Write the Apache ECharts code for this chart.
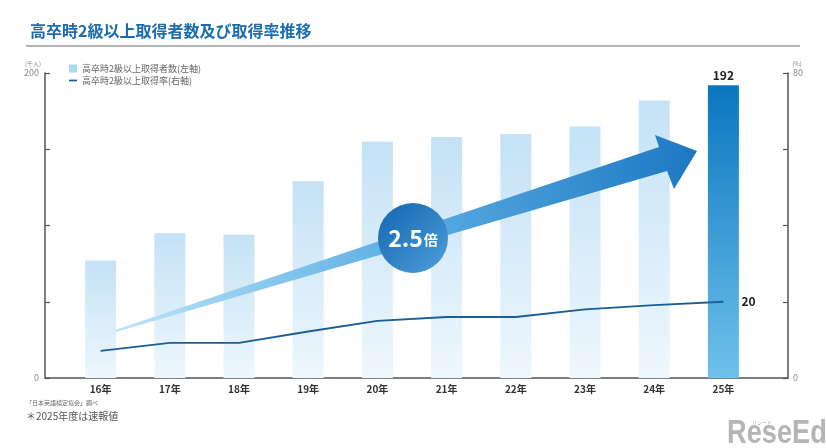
<!DOCTYPE html>
<html><head><meta charset="utf-8">
<script src="https://cdn.jsdelivr.net/npm/echarts@6/dist/echarts.min.js"></script>
<style>html,body{margin:0;padding:0;background:#fff}#c{width:826px;height:448px}</style>
</head><body><div id="c"></div>
<script>
const categories = ['16年','17年','18年','19年','20年','21年','22年','23年','24年','25年'];
const holders = [77, 95, 94, 129, 155, 158, 160, 165, 182, 192];
const rate = [7.1, 9.2, 9.2, 12.2, 15.0, 16.0, 16.0, 18.0, 19.1, 20.0];
const leftTicks = [0, 200];
const rightTicks = [0, 80];
const FONT = '"Noto Sans CJK JP","Noto Sans",sans-serif';

const chart = echarts.init(document.getElementById('c'));
const lightGrad = new echarts.graphic.LinearGradient(0,0,0,1,[{offset:0,color:'#c4e2f6'},{offset:1,color:'#eef7fd'}]);
const darkGrad = new echarts.graphic.LinearGradient(0,0,0,1,[{offset:0,color:'#0a76c0'},{offset:1,color:'#6fc1eb'}]);
const barData = holders.map((v,i)=> i===holders.length-1 ? {value:v,itemStyle:{color:darkGrad},label:{show:true,position:'top',distance:4,fontSize:12,fontWeight:'bold',color:'#222',fontFamily:FONT}} : {value:v,itemStyle:{color:lightGrad}});

chart.setOption({
  animation:false,
  textStyle:{fontFamily:FONT},
  title:{text:'高卒時2級以上取得者数及び取得率推移',left:25,top:18,textStyle:{fontSize:16,fontWeight:'bold',color:'#1b6daf',fontFamily:FONT}},
  legend:{left:64,top:59,orient:'vertical',itemGap:3,itemWidth:8,itemHeight:8,
    textStyle:{fontSize:9,color:'#666',fontFamily:FONT},
    data:[{name:'高卒時2級以上取得者数(左軸)',icon:'rect',itemStyle:{color:'#a9d8f2'}},
          {name:'高卒時2級以上取得率(右軸)',icon:'path://M0,4h10v2.2h-10z',itemStyle:{color:'#1a5e96'}}]},
  grid:[{left:66,right:68,top:73,bottom:70},{left:45,right:38,top:73,bottom:70}],
  xAxis:[
    {gridIndex:0,type:'category',data:categories,axisLine:{show:false},axisTick:{show:false},
     axisLabel:{fontSize:10,fontWeight:'bold',color:'#333',margin:6,fontFamily:FONT}},
    {gridIndex:1,type:'value',min:0,max:1,axisLine:{show:true,lineStyle:{color:'#555',width:1.5}},axisTick:{show:false},axisLabel:{show:false},splitLine:{show:false}}
  ],
  yAxis:[
    {gridIndex:0,type:'value',min:0,max:200,show:false},
    {gridIndex:0,type:'value',min:0,max:80,show:false},
    {gridIndex:1,type:'value',position:'left',min:0,max:200,interval:50,
     axisLine:{show:true,lineStyle:{color:'#555',width:1.5}},axisTick:{show:true,inside:true,length:5,lineStyle:{color:'#555',width:1.2}},
     axisLabel:{formatter:v=>leftTicks.includes(v)?String(v):'',color:'#888',fontSize:9,margin:6},splitLine:{show:false}},
    {gridIndex:1,type:'value',position:'right',min:0,max:80,interval:20,
     axisLine:{show:true,lineStyle:{color:'#555',width:1.5}},axisTick:{show:true,inside:true,length:5,lineStyle:{color:'#555',width:1.2}},
     axisLabel:{formatter:v=>rightTicks.includes(v)?String(v):'',color:'#888',fontSize:9,margin:5},splitLine:{show:false}}
  ],
  series:[
    {name:'高卒時2級以上取得者数(左軸)',type:'bar',xAxisIndex:0,yAxisIndex:0,barWidth:31,data:barData,z:2},
    {name:'高卒時2級以上取得率(右軸)',type:'line',xAxisIndex:0,yAxisIndex:1,data:rate,symbol:'none',
     lineStyle:{color:'#1a5e96',width:1.8},itemStyle:{color:'#1a5e96'},z:3,
     endLabel:{show:true,formatter:'{c}',distance:18,fontSize:12,fontWeight:'bold',color:'#222',fontFamily:FONT}}
  ],
  graphic:[
    {type:'line',z:10,shape:{x1:26,y1:46,x2:800,y2:46},style:{stroke:'#9a9a9a',lineWidth:1.5}},
    {type:'polygon',z:20,shape:{points:[[115,330],[659,147],[655,135],[697,151],[674,189],[667,171],[116,332]]},
     style:{fill:new echarts.graphic.LinearGradient(0,0,1,0,[{offset:0,color:'#bfe5f8'},{offset:0.45,color:'#62b3e6'},{offset:1,color:'#1d78c3'}])}},
    {type:'circle',z:30,shape:{cx:413,cy:238,r:35},
     style:{fill:new echarts.graphic.LinearGradient(0,0,1,1,[{offset:0,color:'#1466b0'},{offset:1,color:'#4d9ed9'}])}},
    {type:'text',z:31,x:413,y:238,style:{text:'{a|2.5}{b|倍}',align:'center',verticalAlign:'middle',
      rich:{a:{fontSize:23,fontWeight:'bold',fill:'#fff',fontFamily:FONT},b:{fontSize:14,fontWeight:'bold',fill:'#fff',fontFamily:FONT,padding:[4,0,0,1]}}}},
    {type:'text',z:10,x:33,y:64,style:{text:'(千人)',fontSize:6,fill:'#888',align:'center',verticalAlign:'middle',fontFamily:FONT}},
    {type:'text',z:10,x:797,y:64,style:{text:'(%)',fontSize:6,fill:'#888',align:'center',verticalAlign:'middle',fontFamily:FONT}},
    {type:'text',z:10,x:26,y:403,style:{text:'「日本英語検定協会」調べ',fontSize:6,fill:'#666',verticalAlign:'middle',fontFamily:FONT}},
    {type:'text',z:10,x:26,y:416,style:{text:'＊2025年度は速報値',fontSize:10,fill:'#555',verticalAlign:'middle',fontFamily:FONT}},
    {type:'text',z:10,x:752,y:422,style:{text:'リシード',fontSize:5,fill:'#aaa',verticalAlign:'middle',fontFamily:FONT}},
    {type:'text',z:10,x:727,y:434,scaleX:0.8,style:{text:'ReseEd',fontSize:34,fontWeight:'bold',fill:'#b5b5b5',verticalAlign:'middle',fontFamily:'"Liberation Sans",sans-serif'}}
  ]
});
</script></body></html>
